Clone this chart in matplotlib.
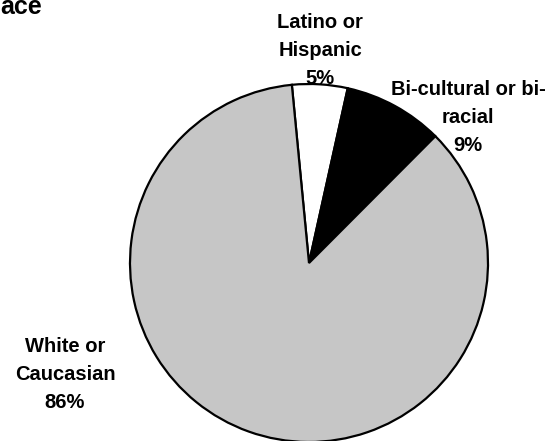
import matplotlib
matplotlib.use("Agg")
import matplotlib.pyplot as plt

categories = ["Latino or\nHispanic", "Bi-cultural or bi-\nracial", "White or\nCaucasian"]
values = [5, 9, 86]
pct_labels = ["5%", "9%", "86%"]
colors = ["#ffffff", "#000000", "#c6c6c6"]

plt.rcParams['font.family'] = ['Liberation Sans', 'DejaVu Sans']

W, H = 550, 441
fig = plt.figure(figsize=(W / 100, H / 100), dpi=100)

cx, cy, R = 309, 263, 179
ax = fig.add_axes([(cx - R) / W, (H - cy - R) / H, 2 * R / W, 2 * R / H])
ax.pie(values, colors=colors, startangle=95.5, counterclock=False,
       wedgeprops=dict(edgecolor="black", linewidth=1.6))
ax.set_xlim(-1, 1)
ax.set_ylim(-1, 1)
ax.set_aspect('equal')
ax.axis('off')

def px(x, y):
    return ((x - cx) / R, (cy - y) / R)

label_pos = [(320, 13), (468, 80), (65, 337)]
for cat, pct, (x, y) in zip(categories, pct_labels, label_pos):
    ax.text(*px(x, y), f"{cat}\n{pct}", ha='center', va='top',
            fontsize=14.5, fontweight='bold', linespacing=1.6, clip_on=False)

fig.text(0, 1 - 14 / H, "ace", ha='left', va='baseline', fontsize=18, fontweight='bold')

fig.savefig("out.png", dpi=100)
